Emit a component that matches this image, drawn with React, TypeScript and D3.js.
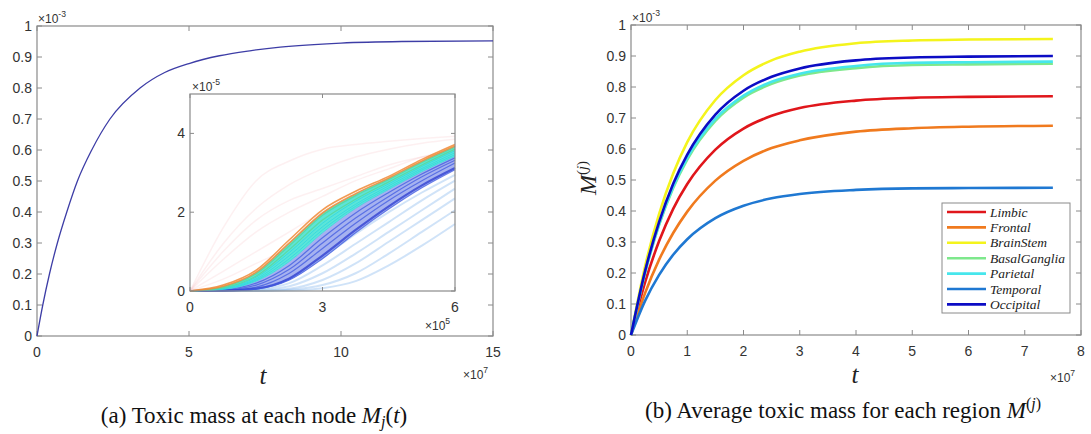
import React from "react";
import * as d3 from "d3";

// ---- main curve (left), t in 1e7, M in 1e-3 ----
const mainT = [0, 0.19, 0.41, 0.67, 0.98, 1.33, 1.8, 2.4, 3.39, 4.2, 5, 6, 7, 8, 10, 12, 15];
const mainM = [0, 0.1, 0.2, 0.3, 0.4, 0.5, 0.6, 0.7, 0.8, 0.85, 0.879, 0.904, 0.92, 0.932, 0.945, 0.95, 0.952];

// ---- inset curves, t in 1e5, M in 1e-5 ----
const insetT = [0, 0.75, 1.5, 2.25, 3, 3.75, 4.5, 5.25, 6];
const limbicLines = [
  [0, 1.6, 2.8, 3.3, 3.6, 3.72, 3.8, 3.87, 3.93],
  [0, 1.2, 2.1, 2.7, 3.1, 3.4, 3.6, 3.75, 3.85],
  [0, 1.0, 1.8, 2.3, 2.6, 2.9, 3.2, 3.4, 3.55],
  [0, 0.8, 1.5, 2.0, 2.4, 2.8, 3.1, 3.4, 3.6],
  [0, 0.5, 1.0, 1.5, 2.0, 2.4, 2.8, 3.1, 3.4],
  [0, 0.3, 0.7, 1.1, 1.6, 2.1, 2.6, 3.0, 3.3],
];
const frontalLines = [
  [0, 0.15, 0.53, 1.3, 2.06, 2.53, 2.91, 3.34, 3.72],
  [0, 0.12, 0.48, 1.22, 1.98, 2.47, 2.87, 3.3, 3.68],
];
const gangliaLines = [
  [0, 0.1, 0.44, 1.15, 1.92, 2.42, 2.83, 3.26, 3.65],
  [0, 0.08, 0.38, 1.05, 1.8, 2.33, 2.77, 3.2, 3.6],
];
const parietalLines = [
  [0, 0.07, 0.35, 0.98, 1.72, 2.28, 2.72, 3.16, 3.56],
  [0, 0.06, 0.31, 0.9, 1.63, 2.2, 2.67, 3.11, 3.51],
  [0, 0.05, 0.28, 0.82, 1.55, 2.15, 2.62, 3.07, 3.46],
  [0, 0.04, 0.25, 0.75, 1.48, 2.1, 2.58, 3.03, 3.42],
];
const occipitalLines = [
  [0, 0.03, 0.2, 0.65, 1.35, 1.98, 2.5, 2.97, 3.38],
  [0, 0.02, 0.15, 0.55, 1.22, 1.85, 2.4, 2.9, 3.32],
  [0, 0.01, 0.1, 0.45, 1.08, 1.72, 2.3, 2.8, 3.25],
  [0, 0.01, 0.06, 0.32, 0.9, 1.55, 2.15, 2.68, 3.12],
  [0, 0.005, 0.05, 0.28, 0.82, 1.48, 2.08, 2.62, 3.08],
];
const temporalLines = [
  [0, 0.01, 0.06, 0.3, 0.85, 1.45, 2.0, 2.5, 2.95],
  [0, 0.0, 0.04, 0.2, 0.65, 1.2, 1.75, 2.3, 2.8],
  [0, 0.0, 0.02, 0.12, 0.45, 0.95, 1.5, 2.05, 2.6],
  [0, 0, 0.01, 0.06, 0.28, 0.7, 1.25, 1.8, 2.35],
  [0, 0, 0, 0.03, 0.15, 0.45, 0.95, 1.5, 2.05],
  [0, 0, 0, 0.01, 0.07, 0.25, 0.65, 1.15, 1.7],
];

// ---- regional averages (right), t in 1e7, M in 1e-3 ----
const regionT = [0, 0.25, 0.5, 0.75, 1, 1.5, 2, 2.5, 3, 4, 5, 6, 7.5];
const regionNames = ["Limbic", "Frontal", "BrainStem", "BasalGanglia", "Parietal", "Temporal", "Occipital"];
const regionColors = ["#e0161b", "#f07a1e", "#f4f41c", "#7ee88c", "#46e6ec", "#1f78d2", "#0c0cc4"];
const limbicAvg = [0, 0.17, 0.303, 0.407, 0.487, 0.598, 0.666, 0.707, 0.732, 0.756, 0.765, 0.768, 0.77];
const frontalAvg = [0, 0.135, 0.243, 0.329, 0.398, 0.498, 0.562, 0.603, 0.628, 0.656, 0.667, 0.672, 0.675];
const brainStemAvg = [0, 0.221, 0.391, 0.521, 0.622, 0.758, 0.838, 0.886, 0.914, 0.941, 0.95, 0.953, 0.955];
const gangliaAvg = [0, 0.2, 0.355, 0.474, 0.566, 0.691, 0.766, 0.81, 0.837, 0.861, 0.871, 0.873, 0.875];
const parietalAvg = [0, 0.202, 0.358, 0.478, 0.571, 0.697, 0.772, 0.817, 0.843, 0.868, 0.878, 0.88, 0.882];
const temporalAvg = [0, 0.11, 0.194, 0.259, 0.309, 0.377, 0.417, 0.441, 0.455, 0.468, 0.473, 0.474, 0.475];
const occipitalAvg = [0, 0.206, 0.365, 0.488, 0.582, 0.711, 0.788, 0.833, 0.86, 0.886, 0.895, 0.898, 0.9];
const regionSeries = [limbicAvg, frontalAvg, brainStemAvg, gangliaAvg, parietalAvg, temporalAvg, occipitalAvg];

const yTicks = [0, 0.1, 0.2, 0.3, 0.4, 0.5, 0.6, 0.7, 0.8, 0.9, 1];
const leftXTicks = [0, 5, 10, 15];
const rightXTicks = [0, 1, 2, 3, 4, 5, 6, 7, 8];
const insetXTicks = [0, 3, 6];
const insetYTicks = [0, 2, 4];

const SANS = "'Liberation Sans', Arial, sans-serif";
const SERIF = "'Liberation Serif', 'Times New Roman', serif";
const AXIS = "#8a8a8a";
const LABEL = "#333";

type Sc = d3.ScaleLinear<number, number>;

function Frame({ x, y, xt, yt, fs = 14, tick = 5, yFmt }: { x: Sc; y: Sc; xt: number[]; yt: number[]; fs?: number; tick?: number; yFmt?: (v: number) => string }) {
  const [x0, x1] = x.range();
  const [y0, y1] = y.range();
  const fmt = yFmt || ((v: number) => String(v));
  return (
    <g>
      <rect x={x0} y={y1} width={x1 - x0} height={y0 - y1} fill="none" stroke={AXIS} strokeWidth={1.2} />
      {xt.map((t) => (
        <g key={"x" + t}>
          <line x1={x(t)} x2={x(t)} y1={y0} y2={y0 - tick} stroke={AXIS} />
          <line x1={x(t)} x2={x(t)} y1={y1} y2={y1 + tick} stroke={AXIS} />
          <text x={x(t)} y={y0 + 21} textAnchor="middle" fontFamily={SANS} fontSize={fs} fill={LABEL}>{t}</text>
        </g>
      ))}
      {yt.map((t) => (
        <g key={"y" + t}>
          <line x1={x0} x2={x0 + tick} y1={y(t)} y2={y(t)} stroke={AXIS} />
          <line x1={x1} x2={x1 - tick} y1={y(t)} y2={y(t)} stroke={AXIS} />
          <text x={x0 - 5} y={y(t) + 5} textAnchor="end" fontFamily={SANS} fontSize={fs} fill={LABEL}>{fmt(t)}</text>
        </g>
      ))}
    </g>
  );
}

function Exp({ x, y, base = "×10", exp, fs = 12 }: { x: number; y: number; base?: string; exp: string; fs?: number }) {
  return (
    <text x={x} y={y} fontFamily={SANS} fontSize={fs} fill={LABEL}>
      {base}
      <tspan dy={-6} fontSize={fs * 0.72}>{exp}</tspan>
    </text>
  );
}

export default function App() {
  // left main axes
  const lx = d3.scaleLinear().domain([0, 15]).range([37, 493]);
  const ly = d3.scaleLinear().domain([0, 1]).range([336, 26]);
  // inset axes
  const ix = d3.scaleLinear().domain([0, 6]).range([190, 455]);
  const iy = d3.scaleLinear().domain([0, 5]).range([291, 94]);
  // right axes
  const rx = d3.scaleLinear().domain([0, 8]).range([631, 1081]);
  const ry = d3.scaleLinear().domain([0, 1]).range([335, 25]);

  const mainLine = d3.line<number>().x((_, i) => lx(mainT[i])).y((d) => ly(d)).curve(d3.curveMonotoneX);
  const insetLine = d3.line<number>().x((_, i) => ix(insetT[i])).y((d) => iy(d)).curve(d3.curveMonotoneX);
  const regionLine = d3.line<number>().x((_, i) => rx(regionT[i])).y((d) => ry(d)).curve(d3.curveMonotoneX);
  const bandArea = (upper: number[], lower: number[]) =>
    d3.area<number>()
      .x((_, i) => ix(insetT[i]))
      .y0((_, i) => iy(lower[i]))
      .y1((d) => iy(d))
      .curve(d3.curveMonotoneX)(upper) || "";

  const fmtY = (v: number) => (v === 0 || v === 1 ? String(v) : v.toFixed(1));

  return (
    <svg width={1091} height={434} style={{ position: "absolute", left: 0, top: 0, background: "#fff" }}>
      {/* ---------- left panel ---------- */}
      <Frame x={lx} y={ly} xt={leftXTicks} yt={yTicks} yFmt={fmtY} />
      <path d={mainLine(mainM) || ""} fill="none" stroke="#3d3da6" strokeWidth={1.3} />
      <Exp x={38} y={23} exp="-3" />
      <Exp x={463} y={379} exp="7" />
      <text x={263} y={384} textAnchor="middle" fontFamily={SERIF} fontStyle="italic" fontSize={25} fill="#222">t</text>

      {/* inset */}
      <rect x={ix(0)} y={iy(5)} width={ix(6) - ix(0)} height={iy(0) - iy(5)} fill="#fff" />
      <g>
        {temporalLines.map((d, i) => (
          <path key={"tl" + i} d={insetLine(d) || ""} fill="none" stroke="#8ab8ee" strokeOpacity={0.4} strokeWidth={2} />
        ))}
        {limbicLines.map((d, i) => (
          <path key={"ll" + i} d={insetLine(d) || ""} fill="none" stroke="#f0a0a8" strokeOpacity={0.16} strokeWidth={1.5} />
        ))}
        <path d={bandArea(parietalLines[3], occipitalLines[4])} fill="#6a7ee6" fillOpacity={0.6} />
        <path d={bandArea(frontalLines[1], parietalLines[3])} fill="#3fe0d2" fillOpacity={0.85} />
        {occipitalLines.map((d, i) => (
          <path key={"ol" + i} d={insetLine(d) || ""} fill="none" stroke={i === 3 ? "#2a3ad0" : "#3f5ae0"} strokeOpacity={0.75} strokeWidth={i === 3 ? 2.2 : 1.2} />
        ))}
        {parietalLines.map((d, i) => (
          <path key={"pl" + i} d={insetLine(d) || ""} fill="none" stroke="#30d8e0" strokeOpacity={0.8} strokeWidth={1} />
        ))}
        {gangliaLines.map((d, i) => (
          <path key={"gl" + i} d={insetLine(d) || ""} fill="none" stroke="#58d89a" strokeOpacity={0.85} strokeWidth={1.2} />
        ))}
        {frontalLines.map((d, i) => (
          <path key={"fl" + i} d={insetLine(d) || ""} fill="none" stroke="#f08a36" strokeOpacity={0.85} strokeWidth={1.6} />
        ))}
      </g>
      <Frame x={ix} y={iy} xt={insetXTicks} yt={insetYTicks} fs={14} tick={4} />
      <Exp x={192} y={91} exp="-5" />
      <Exp x={425} y={330} exp="5" />

      <text x={254} y={423} textAnchor="middle" fontFamily={SERIF} fontSize={23} fill="#111">
        (a) Toxic mass at each node{" "}
        <tspan fontStyle="italic">M</tspan>
        <tspan fontStyle="italic" fontSize={16} dy={4}>j</tspan>
        <tspan dy={-4}>(</tspan>
        <tspan fontStyle="italic">t</tspan>
        <tspan>)</tspan>
      </text>

      {/* ---------- right panel ---------- */}
      <Frame x={rx} y={ry} xt={rightXTicks} yt={yTicks} yFmt={fmtY} />
      {regionSeries.map((d, i) => (
        <path key={regionNames[i]} d={regionLine(d) || ""} fill="none" stroke={regionColors[i]} strokeWidth={2.6} />
      ))}
      <Exp x={632} y={22} exp="-3" />
      <Exp x={1050} y={382} exp="7" />
      <text x={855} y={383} textAnchor="middle" fontFamily={SERIF} fontStyle="italic" fontSize={25} fill="#222">t</text>
      <text transform="translate(596,178) rotate(-90)" textAnchor="middle" fontFamily={SERIF} fontSize={24} fill="#222">
        <tspan fontStyle="italic">M</tspan>
        <tspan fontSize={15} dy={-9}>(</tspan>
        <tspan fontSize={15} fontStyle="italic">j</tspan>
        <tspan fontSize={15}>)</tspan>
      </text>

      {/* legend */}
      <rect x={942} y={203} width={128} height={110} fill="#fff" stroke="#8a8a8a" strokeWidth={1} />
      {regionNames.map((n, i) => (
        <g key={"lg" + n}>
          <line x1={947} x2={986} y1={212 + i * 15.4} y2={212 + i * 15.4} stroke={regionColors[i]} strokeWidth={2.6} />
          <text x={990} y={216.5 + i * 15.4} fontFamily={SERIF} fontStyle="italic" fontSize={13.5} fill="#222">{n}</text>
        </g>
      ))}

      <text x={843} y={418} textAnchor="middle" fontFamily={SERIF} fontSize={23} fill="#111">
        (b) Average toxic mass for each region{" "}
        <tspan fontStyle="italic">M</tspan>
        <tspan fontSize={16} dy={-9}>(</tspan>
        <tspan fontSize={16} fontStyle="italic">j</tspan>
        <tspan fontSize={16}>)</tspan>
      </text>
    </svg>
  );
}
